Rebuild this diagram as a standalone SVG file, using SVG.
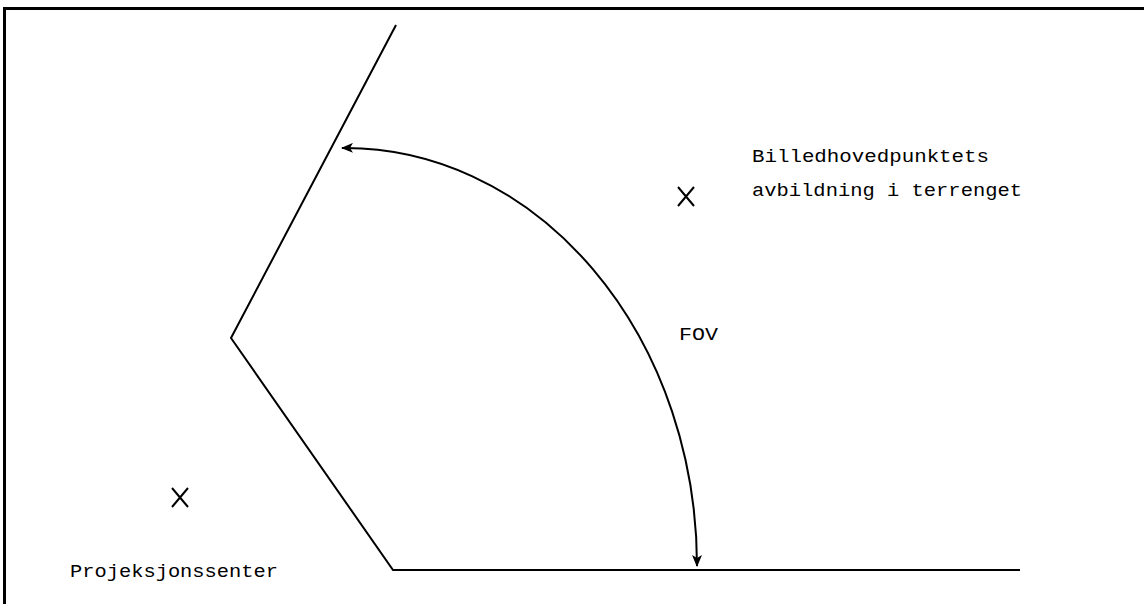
<svg xmlns="http://www.w3.org/2000/svg" width="1144" height="604" viewBox="0 0 1144 604">
<style>
.ln{fill:none;stroke:#000;stroke-width:2}
.t{font-family:"Liberation Mono","Courier New",monospace;font-size:19px;fill:#000}
</style>
<defs>
<marker id="ah" viewBox="0 0 12 10" refX="11" refY="5" markerWidth="12" markerHeight="10" markerUnits="userSpaceOnUse" orient="auto-start-reverse">
<path d="M0,0 L12,5 L0,10 L3,5 Z" fill="#000"/>
</marker>
</defs>
<rect width="1144" height="604" fill="#fff"/>
<g id="frame">
<line x1="3" y1="8.5" x2="1144" y2="8.5" stroke="#000" stroke-width="3"/>
<line x1="4.5" y1="7" x2="4.5" y2="604" stroke="#000" stroke-width="3"/>
</g>
<g id="connectors">
<polyline id="field" class="ln" points="396,25 231,338 393,570 1020,570"/>
<path id="fov-arc" class="ln" d="M697,566 A352,418 0 0 0 342,148" marker-start="url(#ah)" marker-end="url(#ah)"/>
</g>
<g id="principal-point">
<path class="ln" d="M678,187 L694,206 M694,187 L678,206" stroke-width="1.6"/>
<text class="t" x="752" y="162" textLength="237" lengthAdjust="spacingAndGlyphs">Billedhovedpunktets</text>
<text class="t" x="752" y="196" textLength="270" lengthAdjust="spacingAndGlyphs">avbildning i terrenget</text>
</g>
<g id="projection-center">
<path class="ln" d="M172,488 L188,507 M188,488 L172,507" stroke-width="1.6"/>
<text class="t" x="70" y="577" textLength="208" lengthAdjust="spacingAndGlyphs">Projeksjonssenter</text>
</g>
<g id="fov-label">
<text class="t" x="679" y="340" textLength="39" lengthAdjust="spacingAndGlyphs">FOV</text>
</g>
</svg>
